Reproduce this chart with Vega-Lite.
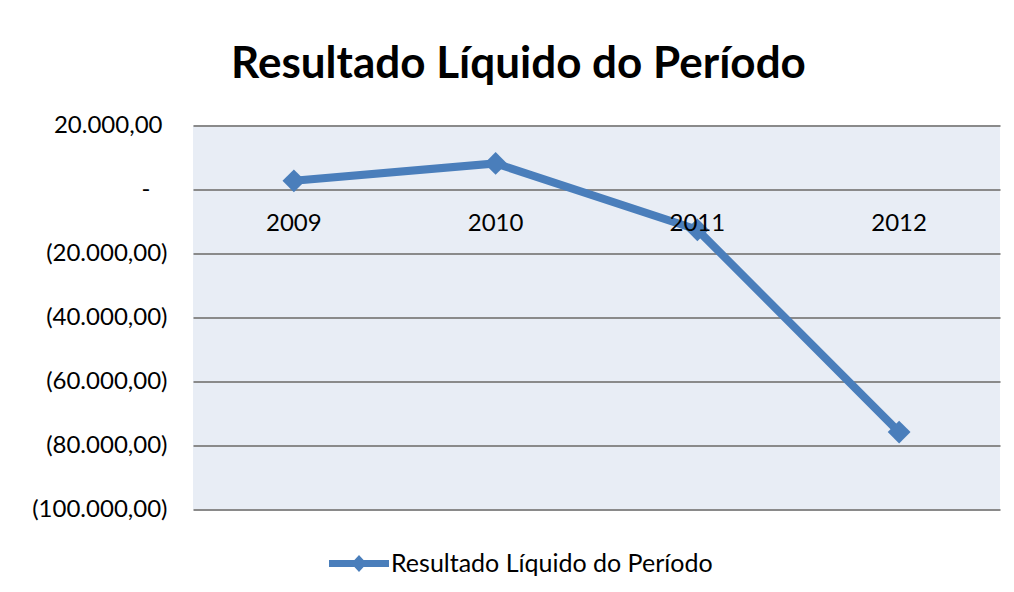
{
  "$schema": "https://vega.github.io/schema/vega-lite/v6.json",
  "width": 807,
  "height": 384,
  "autosize": {"type": "none"},
  "padding": {"left": 193, "top": 125.5, "right": 14, "bottom": 82.5},
  "background": "white",
  "title": {
    "text": "Resultado Líquido do Período",
    "font": "Lato",
    "fontSize": 44,
    "fontWeight": "bold",
    "color": "#000000",
    "anchor": "middle",
    "dx": -78,
    "offset": 27
  },
  "data": {
    "values": [
      {"ano": "2009", "valor": 2700, "serie": "Resultado Líquido do Período"},
      {"ano": "2010", "valor": 8150, "serie": "Resultado Líquido do Período"},
      {"ano": "2011", "valor": -12600, "serie": "Resultado Líquido do Período"},
      {"ano": "2012", "valor": -75800, "serie": "Resultado Líquido do Período"}
    ]
  },
  "encoding": {
    "x": {"field": "ano", "type": "ordinal", "scale": {"type": "point", "padding": 0.5}, "axis": null},
    "y": {
      "field": "valor",
      "type": "quantitative",
      "scale": {"domain": [-100000, 20000], "nice": false, "zero": false},
      "axis": {
        "title": null,
        "values": [20000, 0, -20000, -40000, -60000, -80000, -100000],
        "domain": false,
        "ticks": false,
        "tickSize": 0,
        "labelPadding": {
          "condition": [
            {"test": "datum.value == 0", "value": 43},
            {"test": "datum.value > 0", "value": 31}
          ],
          "value": 26
        },
        "labelFont": "Lato",
        "labelFontSize": 24,
        "labelColor": "#000000",
        "grid": true,
        "gridColor": "#8A8A8A",
        "gridWidth": 2,
        "labelExpr": "datum.value == 0 ? '-' : (datum.value < 0 ? '(' + replace(replace(replace(format(-datum.value, ',.2f'), ',', '#'), '.', ','), '#', '.') + ')' : replace(replace(replace(format(datum.value, ',.2f'), ',', '#'), '.', ','), '#', '.'))"
      }
    }
  },
  "layer": [
    {
      "mark": {"type": "line", "strokeWidth": 8},
      "encoding": {
        "color": {
          "field": "serie",
          "type": "nominal",
          "scale": {"range": ["#4A7EBB"]},
          "legend": {
            "title": null,
            "orient": "none",
            "legendX": 136,
            "legendY": 408,
            "symbolType": "M-1,-0.12H1V0.12H-1Z M0,-0.28L0.26,0L0,0.28L-0.26,0Z",
            "symbolSize": 3600,
            "symbolFillColor": "#4A7EBB",
            "symbolStrokeWidth": 0,
            "labelFont": "Lato",
            "labelFontSize": 25,
            "labelColor": "#000000",
            "labelOffset": 2,
            "labelLimit": 500
          }
        }
      }
    },
    {
      "mark": {"type": "point", "shape": "diamond", "filled": true, "size": 520, "opacity": 1},
      "encoding": {
        "color": {"field": "serie", "type": "nominal"}
      }
    },
    {
      "mark": {"type": "text", "dy": 34, "baseline": "middle", "font": "Lato", "fontSize": 24, "color": "#000000"},
      "encoding": {
        "y": {"datum": 0},
        "text": {"field": "ano"}
      }
    }
  ],
  "config": {
    "view": {"fill": "#E8EDF5", "stroke": null}
  }
}
